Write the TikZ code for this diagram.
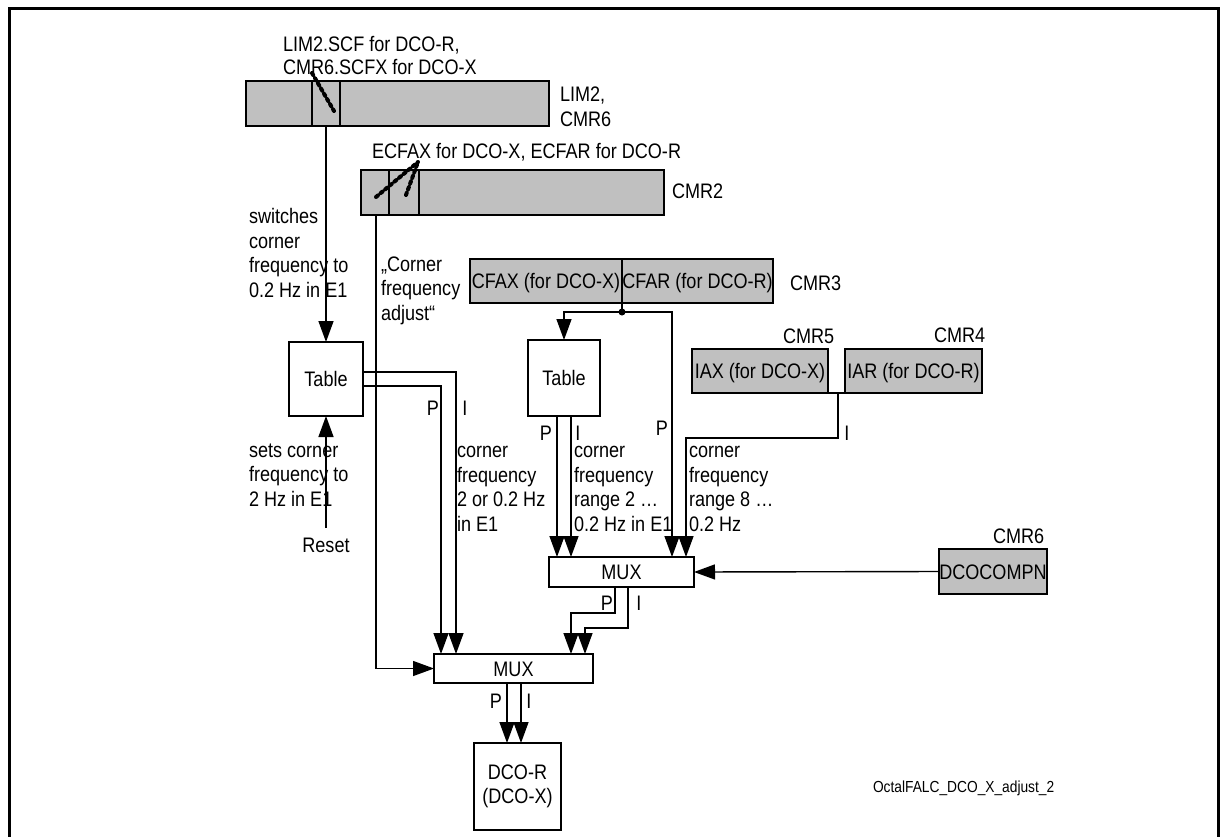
\documentclass[tikz,border=0pt]{standalone}
\usepackage{fontspec}
\setmainfont[FakeStretch=0.86]{Liberation Sans}
\usetikzlibrary{arrows.meta}
\definecolor{boxgray}{RGB}{192,192,192}
\begin{document}
\begin{tikzpicture}[x=1pt,y=-1pt,
  every node/.style={font=\fontsize{21}{24.5}\selectfont, inner sep=0pt, outer sep=0pt},
  ln/.style={line width=1.4pt},
  arr/.style={ln, -{Triangle[length=21pt,width=15pt]}},
  gbox/.style={draw, line width=1.8pt, fill=boxgray, text height=15pt, text depth=0pt},
  wbox/.style={draw, line width=1.6pt, fill=white, text height=15pt, text depth=0pt},
  dots/.style={line width=4pt, dash pattern=on 2.5pt off 3.5pt, line cap=round},
  txt/.style={anchor=base west, align=left},
  ctxt/.style={anchor=base}]
\useasboundingbox (0,0) rectangle (1227,836);
% frame
\draw[line width=3pt] (9.5,840) -- (9.5,8.5) -- (1218,8.5) -- (1218,840);

% register boxes
\node[gbox, minimum width=303pt, minimum height=45pt] (lim) at (397.5,103.5) {};
\draw[line width=1.4pt] ([xshift=66pt]lim.north west) -- ([xshift=66pt]lim.south west);
\draw[line width=1.4pt] ([xshift=94pt]lim.north west) -- ([xshift=94pt]lim.south west);
\draw[dots] (312,73) -- (334,111);

\node[gbox, minimum width=303pt, minimum height=45pt] (cmr2) at (512.5,192.5) {};
\draw[line width=1.4pt] ([xshift=28pt]cmr2.north west) -- ([xshift=28pt]cmr2.south west);
\draw[line width=1.4pt] ([xshift=58pt]cmr2.north west) -- ([xshift=58pt]cmr2.south west);
\draw[dots] (376,197) -- (418,162);
\draw[dots] (406,195) -- (418,162);

\node[gbox, minimum width=152pt, minimum height=44pt] (cfax) at (546,281) {CFAX (for DCO-X)};
\node[gbox, minimum width=151pt, minimum height=44pt] (cfar) at (697.5,281) {CFAR (for DCO-R)};
\node[gbox, minimum width=136pt, minimum height=44pt] (iax) at (760,371) {IAX (for DCO-X)};
\node[gbox, minimum width=137pt, minimum height=44pt] (iar) at (913.5,371) {IAR (for DCO-R)};
\node[gbox, minimum width=108pt, minimum height=45pt] (dcoc) at (993,571.5) {DCOCOMPN};

% white boxes
\node[wbox, minimum width=74pt, minimum height=74pt] (tab1) at (326,379) {Table};
\node[wbox, minimum width=72pt, minimum height=76pt] (tab2) at (564,378) {Table};
\node[wbox, minimum width=145pt, minimum height=30pt] (mux1) at (621.5,572) {MUX};
\node[wbox, minimum width=159pt, minimum height=29pt] (mux2) at (513.5,668.5) {MUX};
\node[draw, line width=1.6pt, fill=white, minimum width=87pt, minimum height=87pt, align=center] (dco) at (517.5,786.5) {DCO-R\\(DCO-X)};

% labels (base anchor = last line of multi-line text)
\node[txt, font=\fontsize{21}{23}\selectfont] (tlim) at (283,74) {LIM2.SCF for DCO-R,\\CMR6.SCFX for DCO-X};
\node[txt] (tlimr) at (560,126) {LIM2,\\CMR6};
\node[txt] (tecfa) at (372,158) {ECFAX for DCO-X, ECFAR for DCO-R};
\node[txt] (tcmr2) at (672,198) {CMR2};
\node[txt] (tsw) at (249,297) {switches\\corner\\frequency to\\0.2 Hz in E1};
\node[txt] (tadj) at (381,320) {„Corner\\frequency\\adjust“};
\node[txt] (tcmr3) at (790,290) {CMR3};
\node[txt] (tcmr5) at (783,343) {CMR5};
\node[txt] (tcmr4) at (934,342) {CMR4};
\node[ctxt] (p1) at (433,415) {P};
\node[ctxt] (i1) at (465,415) {I};
\node[txt] (tsets) at (249,506) {sets corner\\frequency to\\2 Hz in E1};
\node[ctxt] (treset) at (326,552) {Reset};
\node[txt] (tcf1) at (457,531) {corner\\frequency\\2 or 0.2 Hz\\in E1};
\node[ctxt] (p2) at (546,440) {P};
\node[ctxt] (i2) at (578,440) {I};
\node[txt] (tcf2) at (574,531) {corner\\frequency\\range 2 …\\0.2 Hz in E1};
\node[ctxt] (p3) at (662,435) {P};
\node[ctxt] (i3) at (847,440) {I};
\node[txt] (tcf3) at (689,531) {corner\\frequency\\range 8 …\\0.2 Hz};
\node[txt] (tcmr6) at (993,543) {CMR6};
\node[ctxt] (p4) at (607,610) {P};
\node[ctxt] (i4) at (639,610) {I};
\node[ctxt] (p5) at (496,708) {P};
\node[ctxt] (i5) at (529,708) {I};
\node[txt, font=\fontsize{16}{19}\selectfont] (toct) at (873,792) {OctalFALC\_DCO\_X\_adjust\_2};

% coordinates
\coordinate (limo) at ([xshift=80pt]lim.south west);
\coordinate (c2o) at ([xshift=15pt]cmr2.south west);
\coordinate (j) at ([yshift=-9pt]cfax.south east);
\coordinate (k) at ([xshift=10pt]iax.south east);
\coordinate (rst) at (326,528);
\coordinate (o1) at ([xshift=73pt]mux2.south west);
\coordinate (o2) at ([xshift=87pt]mux2.south west);

% connectors
\draw[arr] (limo) -- (tab1.north);
\draw[arr] (c2o) |- (mux2.west);
\draw[ln] (cfax.south east) -- (j);
\fill (j) circle (3.5pt);
\draw[arr] (j) -| (tab2.north);
\draw[arr] (j) -| ([xshift=123pt]mux1.north west);
\draw[ln] (iax.south east) -- (iar.south west);
\draw[arr] (k) -- ++(0,45) -| ([xshift=137pt]mux1.north west);
\draw[arr] ([xshift=29pt]tab2.south west) -- ([xshift=8pt]mux1.north west);
\draw[arr] ([xshift=43pt]tab2.south west) -- ([xshift=22pt]mux1.north west);
\draw[arr] (dcoc.west) -- (mux1.east);
\draw[arr] ([yshift=-30pt]tab1.north east) -| ([xshift=22pt]mux2.north west);
\draw[arr] ([yshift=-44pt]tab1.north east) -| ([xshift=7pt]mux2.north west);
\draw[arr] (rst) -- (tab1.south);
\draw[arr] ([xshift=66pt]mux1.south west) -- ++(0,26) -| ([xshift=137pt]mux2.north west);
\draw[arr] ([xshift=79pt]mux1.south west) -- ++(0,41) -| ([xshift=151pt]mux2.north west);
\draw[arr] (o1) -- (o1 |- dco.north);
\draw[arr] (o2) -- (o2 |- dco.north);
\end{tikzpicture}
\end{document}
